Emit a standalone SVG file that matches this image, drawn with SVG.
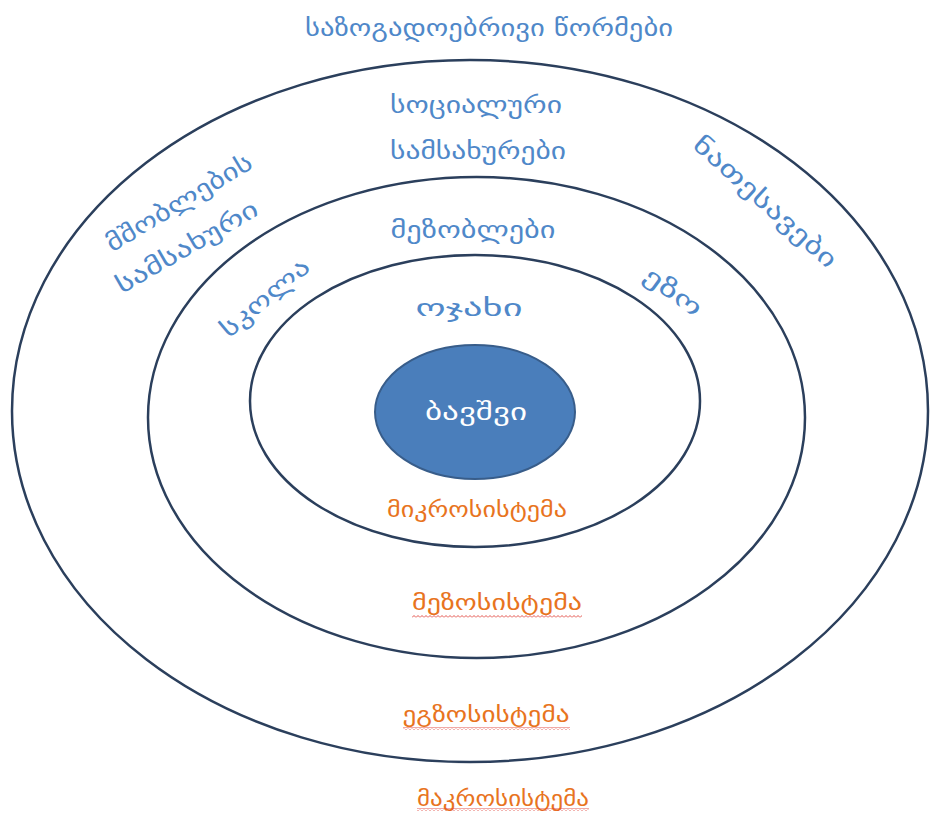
<svg xmlns="http://www.w3.org/2000/svg" width="933" height="813" viewBox="0 0 933 813">
<defs>
<style>
.ring{fill:none;stroke:#2b3f5c;stroke-width:2.5}
.lb{font-family:"DejaVu Sans","Noto Sans",sans-serif;font-size:24px;fill:#4f88c9;text-anchor:middle;dominant-baseline:central}
.or{font-family:"DejaVu Sans","Noto Sans",sans-serif;font-size:21px;fill:#e8741e;text-anchor:middle;dominant-baseline:central}
</style>
<pattern id="wave" x="0" y="0" width="4" height="3" patternUnits="userSpaceOnUse">
<path d="M0 2.5 L2 0.5 L4 2.5" fill="none" stroke="#e0403a" stroke-width="0.9"/>
</pattern>
</defs>
<rect width="933" height="813" fill="#ffffff"/>
<g id="macro-ring"><ellipse class="ring" cx="470" cy="411" rx="458" ry="351"/></g>
<g id="exo-ring"><ellipse class="ring" cx="476.5" cy="417.5" rx="328.5" ry="240.5"/></g>
<g id="meso-ring"><ellipse class="ring" cx="475" cy="401" rx="225" ry="146"/></g>
<g id="child"><ellipse cx="475" cy="412" rx="100" ry="67" fill="#4a7ebb" stroke="#385d8a" stroke-width="2"/>
<text class="lb" x="476" y="412" style="fill:#ffffff" textLength="102" lengthAdjust="spacingAndGlyphs">ბავშვი</text></g>
<g id="norms"><text class="lb" x="489" y="28" textLength="368" lengthAdjust="spacingAndGlyphs">საზოგადოებრივი წორმები</text></g>
<g id="social"><text class="lb" x="476" y="105" textLength="172" lengthAdjust="spacingAndGlyphs">სოციალური</text>
<text class="lb" x="478" y="151" textLength="176" lengthAdjust="spacingAndGlyphs">სამსახურები</text></g>
<g id="neighbours"><text class="lb" x="473" y="230" textLength="165" lengthAdjust="spacingAndGlyphs">მეზობლები</text></g>
<g id="family"><text class="lb" x="469" y="308" textLength="107" lengthAdjust="spacingAndGlyphs">ოჯახი</text></g>
<g id="parents-work">
<text class="lb" transform="translate(179,203) rotate(-31)" x="0" y="0" textLength="166" lengthAdjust="spacingAndGlyphs">მშობლების</text>
<text class="lb" transform="translate(187,247) rotate(-30)" x="0" y="0" textLength="160" lengthAdjust="spacingAndGlyphs">სამსახური</text></g>
<g id="school" transform="translate(265,298) rotate(-40)"><text class="lb" x="0" y="0" textLength="108" lengthAdjust="spacingAndGlyphs">სკოლა</text></g>
<g id="relatives" transform="translate(765,202) rotate(42)"><text class="lb" x="0" y="0" textLength="184" lengthAdjust="spacingAndGlyphs">ნათესავები</text></g>
<g id="yard" transform="translate(673,292) rotate(36)"><text class="lb" x="0" y="0" textLength="66" lengthAdjust="spacingAndGlyphs">ეზო</text></g>
<g id="micro"><text class="or" x="477" y="510" textLength="180" lengthAdjust="spacingAndGlyphs">მიკროსისტემა</text></g>
<g id="meso"><text class="or" x="497" y="603" textLength="170" lengthAdjust="spacingAndGlyphs">მეზოსისტემა</text>
<rect x="412" y="615" width="170" height="3" fill="url(#wave)"/></g>
<g id="exo"><text class="or" x="486" y="715" textLength="167" lengthAdjust="spacingAndGlyphs">ეგზოსისტემა</text>
<rect x="403" y="727" width="167" height="3" fill="url(#wave)"/></g>
<g id="macro"><text class="or" x="503" y="799" textLength="172" lengthAdjust="spacingAndGlyphs">მაკროსისტემა</text>
<rect x="417" y="808" width="172" height="3" fill="url(#wave)"/></g>
<g id="connectors"></g>
</svg>
